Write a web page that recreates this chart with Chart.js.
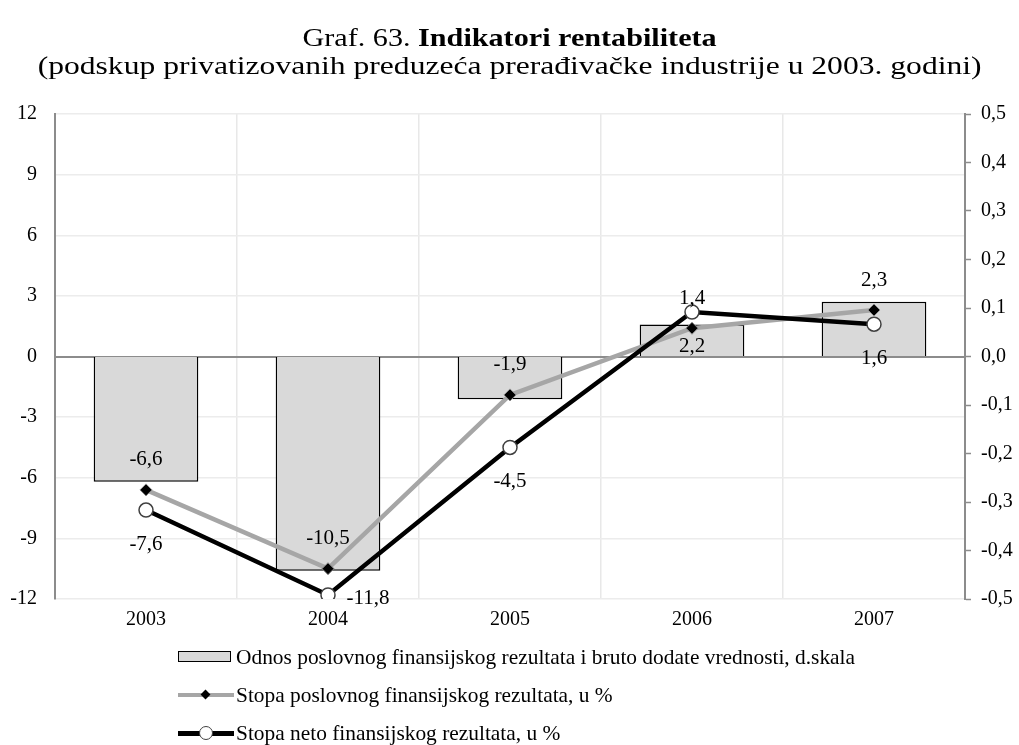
<!DOCTYPE html>
<html>
<head>
<meta charset="utf-8">
<script src="https://cdn.jsdelivr.net/npm/chart.js@4.4.1/dist/chart.umd.min.js"></script>
<style>
  body { margin: 0; background: #fff; font-family: "Liberation Serif", "Times New Roman", serif; }
  #wrap { position: relative; width: 1019px; height: 745px; overflow: hidden; }
  #grafik { position: absolute; left: 0; top: 0; }
  .naslov { position: absolute; left: 0; width: 1019px; text-align: center; font-size: 26px; line-height: 30px; color: #000; white-space: nowrap; transform-origin: 509px 50%; }
  .legenda { position: absolute; left: 178px; font-size: 21.4px; line-height: 24px; color: #000; display: flex; align-items: center; white-space: nowrap; }
  .sim { position: relative; width: 56px; height: 16px; margin-right: 2px; }
</style>
</head>
<body>
<div id="wrap">
  <canvas id="grafik" width="1019" height="745"></canvas>
  <div class="naslov" style="top:23px;transform:scaleX(1.16)">Graf. 63. <b>Indikatori rentabiliteta</b></div>
  <div class="naslov" style="top:51px;transform:scaleX(1.215)">(podskup privatizovanih preduzeća prerađivačke industrije u 2003. godini)</div>
  <div id="legende"></div>
</div>
<script>
/* podaci sa grafika */
const godine = ['2003', '2004', '2005', '2006', '2007'];
const odnos_bdv = [-0.258, -0.442, -0.088, 0.066, 0.113];
const stopa_poslovnog = [-6.6, -10.5, -1.9, 1.4, 2.3];
const stopa_neto = [-7.6, -11.8, -4.5, 2.2, 1.6];
const ticks_levo = [-12, -9, -6, -3, 0, 3, 6, 9, 12];
const ticks_desno = [-0.5, -0.4, -0.3, -0.2, -0.1, 0, 0.1, 0.2, 0.3, 0.4, 0.5];

const nazivi = [
    'Odnos poslovnog finansijskog rezultata i bruto dodate vrednosti, d.skala',
    'Stopa poslovnog finansijskog rezultata, u %',
    'Stopa neto finansijskog rezultata, u %'
];

const FONT = '"Liberation Serif", "Times New Roman", serif';
const zarez = v => (Math.abs(v) < 1e-9 ? 0 : v).toFixed(1).replace('.', ',');

/* oznake vrednosti iznad/ispod tacaka; -11,8 je pomerena udesno kao na originalu */
const oznake_plugin = {
    id: 'oznake',
    afterDatasetsDraw(chart) {
        const ctx = chart.ctx;
        ctx.save();
        ctx.font = '21px ' + FONT;
        ctx.fillStyle = '#000';
        ctx.textAlign = 'center';
        ctx.textBaseline = 'middle';
        [[1, -30], [2, 34]].forEach(([i, pomak]) => {
            const meta = chart.getDatasetMeta(i);
            const podaci = chart.data.datasets[i].data;
            meta.data.forEach((t, j) => {
                let dx = 0, dy = pomak;
                if (i === 2 && j === 1) { dx = 40; dy = 4; }
                ctx.fillText(zarez(podaci[j]), t.x + dx, t.y + dy);
            });
        });
        ctx.restore();
    }
};

const data_grafik = {
    labels: godine,
    datasets: [{
        type: 'bar',
        label: nazivi[0],
        data: odnos_bdv,
        yAxisID: 'y1',
        backgroundColor: '#d9d9d9',
        borderColor: '#000',
        borderWidth: 1.5,
        barPercentage: 1,
        categoryPercentage: 0.575,
        order: 3
    },
    {
        type: 'line',
        label: nazivi[1],
        data: stopa_poslovnog,
        yAxisID: 'y',
        borderColor: '#a6a6a6',
        borderWidth: 4.5,
        pointStyle: 'rectRot',
        pointRadius: 6,
        pointBackgroundColor: '#000',
        pointBorderColor: '#8c8c8c',
        pointBorderWidth: 1,
        tension: 0,
        order: 2
    },
    {
        type: 'line',
        label: nazivi[2],
        data: stopa_neto,
        yAxisID: 'y',
        borderColor: '#000',
        borderWidth: 4.5,
        pointStyle: 'circle',
        pointRadius: 7,
        pointBackgroundColor: '#fff',
        pointBorderColor: '#404040',
        pointBorderWidth: 1.5,
        tension: 0,
        order: 1
    }]
};

const config_grafik = {
    data: data_grafik,
    plugins: [oznake_plugin],
    options: {
        responsive: false,
        animation: false,
        layout: { autoPadding: false, padding: { top: 114, bottom: 104, left: 10, right: 5 } },
        plugins: { legend: { display: false }, title: { display: false }, tooltip: { enabled: false } },
        scales: {
            x: {
                offset: true,
                grid: { color: '#e8e8e8', lineWidth: 1.5, offset: true, drawTicks: false },
                border: { display: false },
                ticks: { color: '#000', font: { family: FONT, size: 20 }, padding: 9 }
            },
            y: {
                position: 'left',
                min: -12, max: 12,
                afterBuildTicks: s => { s.ticks = ticks_levo.map(v => ({ value: v })); },
                afterFit: s => { s.width = 45; },
                grid: {
                    color: c => c.tick && c.tick.value === 0 ? '#8c8c8c' : '#ececec',
                    lineWidth: c => c.tick && c.tick.value === 0 ? 2 : 1.5,
                    drawTicks: false
                },
                border: { color: '#8c8c8c', width: 2 },
                ticks: { color: '#000', font: { family: FONT, size: 20 }, padding: 18 }
            },
            y1: {
                position: 'right',
                min: -0.5, max: 0.5,
                afterBuildTicks: s => { s.ticks = ticks_desno.map(v => ({ value: v })); },
                afterFit: s => { s.width = 49; },
                grid: { drawOnChartArea: false, drawTicks: true, tickLength: 6, tickColor: '#8c8c8c', tickWidth: 1.5 },
                border: { color: '#8c8c8c', width: 2 },
                ticks: { color: '#000', font: { family: FONT, size: 20 }, padding: 10, callback: v => zarez(v) }
            }
        }
    }
};

const grafik = new Chart(document.getElementById('grafik'), config_grafik);

/* legenda */
const simboli = [
    '<div style="position:absolute;left:0;top:2px;width:51px;height:9px;background:#d9d9d9;border:1.5px solid #000"></div>',
    '<div style="position:absolute;left:0;top:6px;width:56px;height:4px;background:#a6a6a6"></div>' +
    '<div style="position:absolute;left:24px;top:4px;width:7px;height:7px;background:#000;transform:rotate(45deg)"></div>',
    '<div style="position:absolute;left:0;top:6px;width:56px;height:5px;background:#000"></div>' +
    '<div style="position:absolute;left:21px;top:1px;width:12px;height:12px;background:#fff;border:1.5px solid #404040;border-radius:50%"></div>'
];
const vrh = [645, 683, 721];
document.getElementById('legende').innerHTML = nazivi.map((n, i) =>
    '<div class="legenda" style="top:' + vrh[i] + 'px"><div class="sim">' + simboli[i] + '</div>' + n + '</div>'
).join('');
</script>
</body>
</html>
